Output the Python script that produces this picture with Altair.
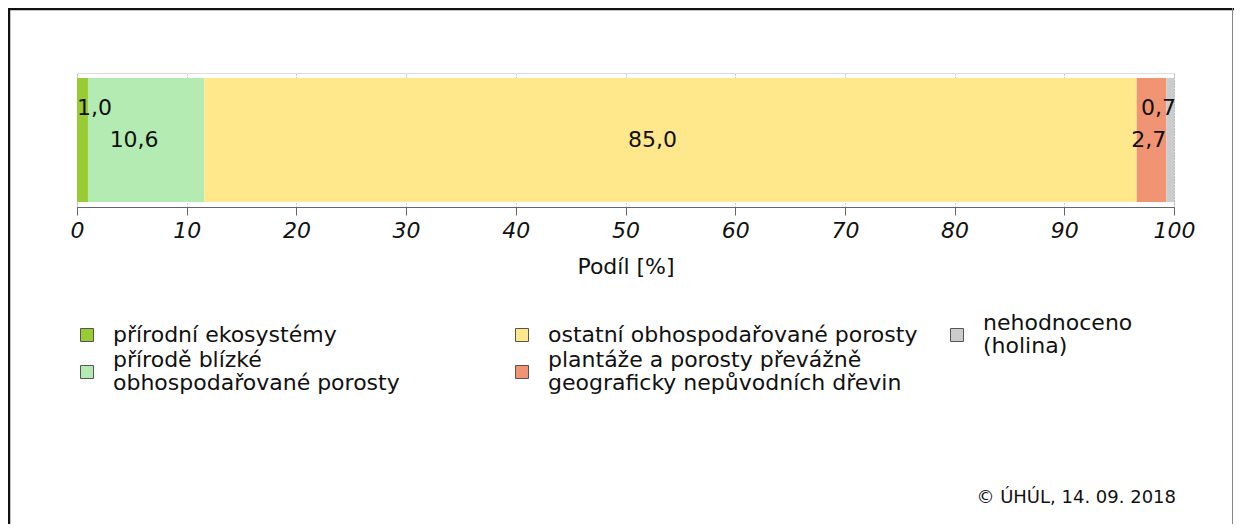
import altair as alt
import pandas as pd

categories = [
    "přírodní ekosystémy",
    "přírodě blízké\nobhospodařované porosty",
    "ostatní obhospodařované porosty",
    "plantáže a porosty převážně\ngeograficky nepůvodních dřevin",
    "nehodnoceno\n(holina)",
]
values = [1.0, 10.6, 85.0, 2.7, 0.7]
colors = ["#99CC33", "#B3EBB3", "#FFE88C", "#F09474", "#CCCCCC"]
ticks = [0, 10, 20, 30, 40, 50, 60, 70, 80, 90, 100]
axis_title = "Podíl [%]"
footer = "© ÚHÚL,  14. 09. 2018"

rows = []
acc = 0.0
for i, (c, v) in enumerate(zip(categories, values)):
    rows.append({
        "cat": c, "value": v, "start": acc, "end": acc + v,
        "mid": acc + v / 2, "label": f"{v:.1f}".replace(".", ","),
        "idx": i, "col": i // 2, "row": i % 2, "band": "a",
        "multi": "\n" in c,
    })
    acc += v
df = pd.DataFrame(rows)

FONT = "DejaVu Sans"
xscale = alt.Scale(domain=[0, 100], nice=False, zero=False)
yscale = alt.Scale(paddingInner=0, paddingOuter=0.04)
cscale = alt.Scale(domain=categories, range=colors)

base = alt.Chart(df)

bar = base.mark_bar(opacity=1).encode(
    x=alt.X("start:Q", scale=xscale,
            axis=alt.Axis(values=ticks, format="d", title=axis_title,
                          grid=True, gridDash=[1, 2], gridColor="#999999",
                          domainColor="#666666", tickColor="#666666",
                          tickSize=8, labelFontSize=22, labelFontStyle="italic",
                          labelFlush=False, labelOverlap=False,
                          labelColor="#111111", labelPadding=5, labelFont=FONT,
                          titleFont=FONT, titleFontSize=22, titleFontWeight="normal",
                          titleColor="#111111", titlePadding=15)),
    x2="end:Q",
    y=alt.Y("band:N", scale=yscale, axis=None),
    color=alt.Color("cat:N", scale=cscale, legend=None),
)

def lab(filter_expr, xfield, align, dx=0, dy=0):
    return base.transform_filter(filter_expr).mark_text(
        align=align, baseline="middle", dx=dx, dy=dy, fontSize=22,
        font=FONT, color="#111111"
    ).encode(
        x=alt.X(f"{xfield}:Q", scale=xscale),
        y=alt.Y("band:N", scale=yscale, axis=None),
        text="label:N",
    )

labels = [
    lab("datum.idx == 0", "start", "left", dx=0, dy=-32),
    lab("datum.idx == 1", "mid", "center", dx=-12),
    lab("datum.idx == 2", "mid", "center", dx=-18),
    lab("datum.idx == 3", "end", "right", dx=0),
    lab("datum.idx == 4", "end", "right", dx=2, dy=-32),
]

inner = alt.layer(bar, *labels)

lx = alt.X("col:Q", scale=alt.Scale(domain=[0, 2], range=[10, 880]), axis=None)
ly = alt.Y("row:Q", scale=alt.Scale(domain=[0, 1], range=[262, 299]), axis=None)

leg_sym = base.mark_square(size=169, opacity=1, stroke="#555555", strokeWidth=1).encode(
    x=lx, y=ly, color=alt.Color("cat:N", scale=cscale, legend=None)
)

def leg_text(filter_expr, dy):
    return base.transform_filter(filter_expr).mark_text(
        align="left", baseline="middle", dx=26, dy=dy, fontSize=22,
        font=FONT, color="#111111", lineBreak="\n", lineHeight=23
    ).encode(x=lx, y=ly, text="cat:N")

leg_single = leg_text("!datum.multi", 0)
leg_multi = leg_text("datum.multi", -12)

one = pd.DataFrame({"t": [footer]})
frame_top = alt.Chart(one).mark_rule(color="#111111", strokeWidth=2.5).encode(
    x=alt.value(-69), x2=alt.value(1160), y=alt.value(-64))
frame_left = alt.Chart(one).mark_rule(color="#111111", strokeWidth=2.5).encode(
    x=alt.value(-68), y=alt.value(-65), y2=alt.value(460))
frame_right = alt.Chart(one).mark_rule(color="#888888", strokeWidth=1).encode(
    x=alt.value(1155.5), y=alt.value(-65), y2=alt.value(460))
foot = alt.Chart(one).mark_text(align="right", baseline="middle", fontSize=18,
                                font=FONT, color="#111111").encode(
    x=alt.value(1099), y=alt.value(425), text="t:N")

chart = alt.layer(inner, leg_sym, leg_single, leg_multi, frame_top, frame_left,
                  frame_right, foot).resolve_scale(
    x="independent", y="independent"
).properties(
    width=1097, height=134,
    padding={"left": 69, "top": 65, "right": 60, "bottom": 317},
    autosize=alt.AutoSizeParams(type="none"),
).configure_view(stroke=None).configure(font=FONT)

chart.save("out.html", embed_options={"renderer": "svg", "actions": False})
